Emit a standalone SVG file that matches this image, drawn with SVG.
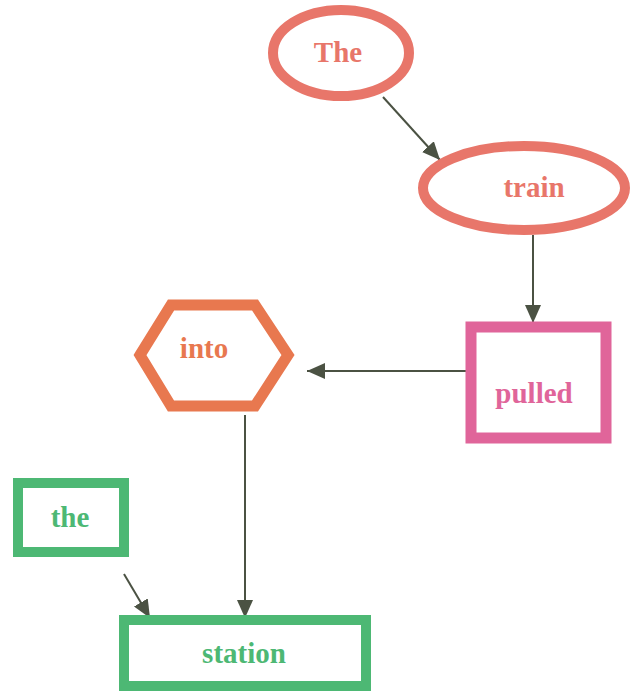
<svg xmlns="http://www.w3.org/2000/svg" width="632" height="691" viewBox="0 0 632 691">
<style>
text{font-family:"Liberation Serif","Times New Roman",serif;font-weight:bold;font-size:29px;text-anchor:middle}
.edge{stroke:#4b5243;stroke-width:2;fill:none;marker-end:url(#ah)}
.salmon{fill:none;stroke:#e8766a;stroke-width:10}
.orange{fill:none;stroke:#e8784f;stroke-width:11}
.pink{fill:none;stroke:#e0659a;stroke-width:11}
.green{fill:none;stroke:#4db874;stroke-width:10}
</style>
<defs>
<marker id="ah" markerUnits="userSpaceOnUse" markerWidth="20" markerHeight="16" refX="18" refY="8" orient="auto">
<path d="M0,0 L18,8 L0,16 Z" fill="#4b5243"/>
</marker>
</defs>
<rect width="632" height="691" fill="#ffffff"/>
<g id="connectors">
<line class="edge" x1="383" y1="97" x2="440" y2="160"/>
<line class="edge" x1="533" y1="235" x2="533" y2="323"/>
<line class="edge" x1="472" y1="371" x2="307" y2="371"/>
<line class="edge" x1="245" y1="415" x2="245" y2="618"/>
<line class="edge" x1="124" y1="574" x2="150" y2="618"/>
</g>
<g id="node-The">
<ellipse class="salmon" cx="341" cy="53" rx="68" ry="43"/>
<text x="338" y="62" fill="#e8766a">The</text>
</g>
<g id="node-train">
<ellipse class="salmon" cx="524" cy="188" rx="101" ry="42"/>
<text x="534" y="197" fill="#e8766a">train</text>
</g>
<g id="node-pulled">
<rect class="pink" x="471" y="327" width="135" height="111"/>
<text x="534" y="403" fill="#e0659a">pulled</text>
</g>
<g id="node-into">
<polygon class="orange" points="140,355 171,305 255,305 288,355 255,406 171,406"/>
<text x="204" y="358" fill="#e8784f">into</text>
</g>
<g id="node-the">
<rect class="green" x="18" y="483" width="106" height="69"/>
<text x="70" y="527" fill="#4db874">the</text>
</g>
<g id="node-station">
<rect class="green" x="124" y="620" width="242" height="66"/>
<text x="244" y="663" fill="#4db874">station</text>
</g>
</svg>
